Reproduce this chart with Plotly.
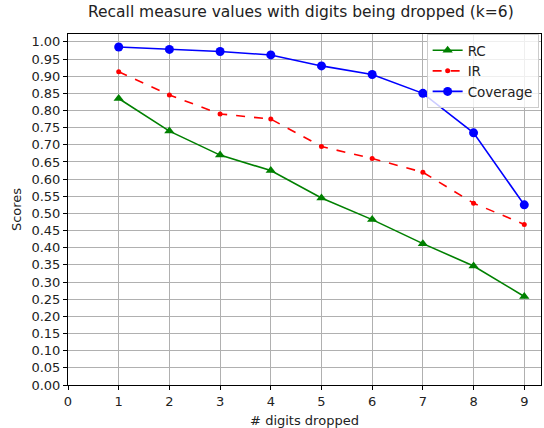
import plotly.graph_objects as go

x = [1, 2, 3, 4, 5, 6, 7, 8, 9]
rc = [0.835, 0.740, 0.670, 0.625, 0.545, 0.482, 0.412, 0.347, 0.258]
ir = [0.913, 0.845, 0.790, 0.775, 0.695, 0.660, 0.620, 0.530, 0.468]
coverage = [0.985, 0.978, 0.972, 0.962, 0.930, 0.905, 0.850, 0.735, 0.525]
yticks = [round(i * 0.05, 2) for i in range(21)]
xticks = list(range(10))

fig = go.Figure()
fig.add_trace(go.Scatter(x=x, y=rc, mode="lines+markers", name="RC",
                         line=dict(color="green", width=1.6),
                         marker=dict(symbol="triangle-up", size=9, color="green")))
fig.add_trace(go.Scatter(x=x, y=ir, mode="lines+markers", name="IR",
                         line=dict(color="red", width=1.6, dash="dash"),
                         marker=dict(symbol="circle", size=5, color="red")))
fig.add_trace(go.Scatter(x=x, y=coverage, mode="lines+markers", name="Coverage",
                         line=dict(color="blue", width=1.6),
                         marker=dict(symbol="circle", size=9, color="blue")))

fig.update_layout(
    width=544, height=428,
    margin=dict(l=68, r=2, t=34, b=41),
    paper_bgcolor="white", plot_bgcolor="white",
    font=dict(family="DejaVu Sans", size=13, color="#222222"),
    title=dict(text="Recall measure values with digits being dropped (k=6)",
               x=0.553, xanchor="center", y=0.985, yanchor="top", font=dict(size=15.5)),
    legend=dict(x=0.995, y=1.0, xanchor="right", yanchor="top",
                bgcolor="rgba(255,255,255,0.8)", bordercolor="#cccccc", borderwidth=1,
                font=dict(size=13.5)),
    showlegend=True,
)
fig.update_xaxes(range=[0, 9.33], tickvals=xticks, ticktext=[str(v) for v in xticks],
                 showgrid=True, gridcolor="#b0b0b0", gridwidth=0.8,
                 showline=True, linecolor="black", linewidth=1, mirror=True,
                 ticks="outside", ticklen=4, tickcolor="black", zeroline=False,
                 tickfont=dict(size=13),
                 title=dict(text="# digits dropped", standoff=8, font=dict(size=13)))
fig.update_yaxes(range=[0, 1.023], tickvals=yticks, ticktext=[f"{v:.2f}" for v in yticks],
                 showgrid=True, gridcolor="#b0b0b0", gridwidth=0.8,
                 showline=True, linecolor="black", linewidth=1, mirror=True,
                 ticks="outside", ticklen=4, tickcolor="black", zeroline=False,
                 tickfont=dict(size=13),
                 title=dict(text="Scores", standoff=6, font=dict(size=13)))

fig.write_html("out.html")
